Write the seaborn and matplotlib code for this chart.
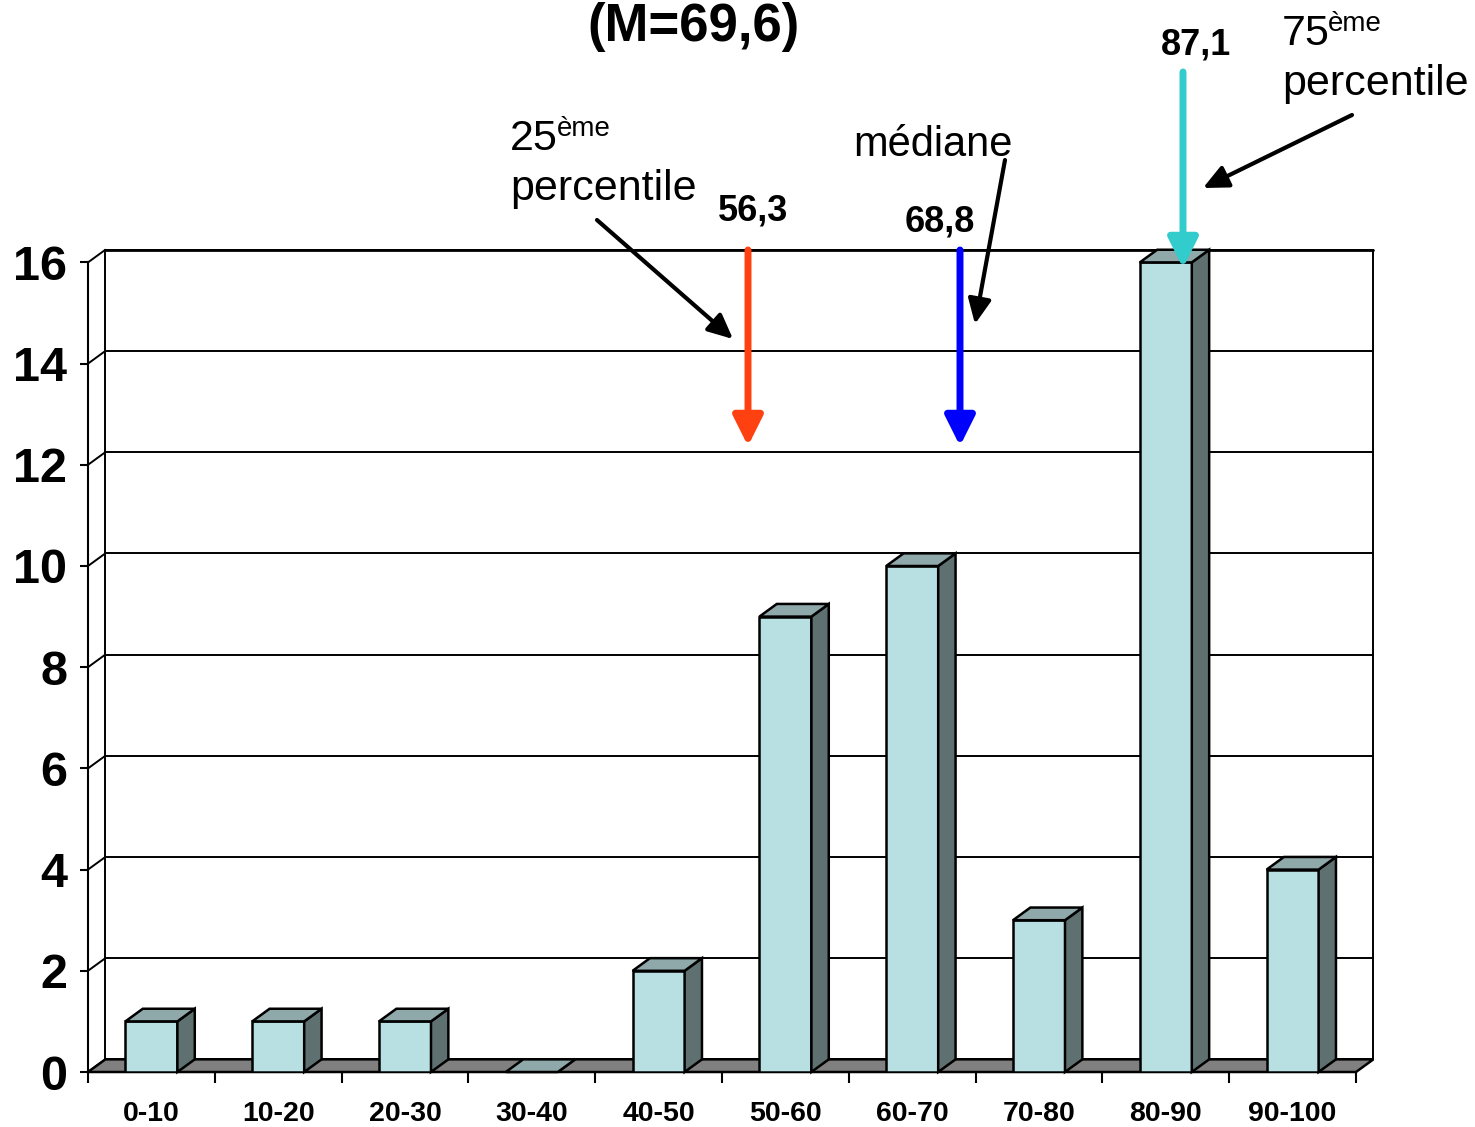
import matplotlib
matplotlib.use("Agg")
import matplotlib.pyplot as plt
from matplotlib.patches import Polygon, FancyArrowPatch
import seaborn as sns
import pandas as pd

# ---- data ----
categories = ["0-10", "10-20", "20-30", "30-40", "40-50", "50-60", "60-70", "70-80", "80-90", "90-100"]
counts = [1, 1, 1, 0, 2, 9, 10, 3, 16, 4]
y_ticks = [0, 2, 4, 6, 8, 10, 12, 14, 16]
title_text = "(M=69,6)"
p25_value = "56,3"
median_value = "68,8"
p75_value = "87,1"

sns.set_theme(style="white")
plt.rcParams["font.family"] = ["Liberation Sans", "DejaVu Sans"]
plt.rcParams["text.color"] = "black"
plt.rcParams["xtick.color"] = "black"
plt.rcParams["ytick.color"] = "black"
plt.rcParams["axes.labelcolor"] = "black"

W, H = 1475, 1127
fig = plt.figure(figsize=(W / 100, H / 100), dpi=100)

# axes geometry (pixels)
x_px_left, unit_x = 88, 126.8
y_px_bottom, unit_y = 1072, 50.6
xmin, xmax = -0.5, 9.75
ymin, ymax = 0, 16.5
ax = fig.add_axes([x_px_left / W, (H - y_px_bottom) / H,
                   (xmax - xmin) * unit_x / W, (ymax - ymin) * unit_y / H])

df = pd.DataFrame({"cat": categories, "n": counts})
sns.barplot(data=df, x="cat", y="n", width=0.41, color="#B8DFE2",
            edgecolor="black", linewidth=1.8, saturation=1, ax=ax, zorder=5)
ax.set_xlim(xmin, xmax)
ax.set_ylim(ymin, ymax)

dx, dy = 0.137, 0.25
n = len(categories)
L, R = -0.5, n - 0.5

# back wall gridlines and walls
for v in y_ticks:
    ax.plot([L + dx, R + dx], [v + dy, v + dy], color="black", lw=1.4, zorder=1, clip_on=False)
    ax.plot([L, L + dx], [v, v + dy], color="black", lw=1.4, zorder=1, clip_on=False)
ax.plot([L + dx, L + dx], [dy, y_ticks[-1] + dy], color="black", lw=1.4, zorder=1, clip_on=False)
ax.plot([R + dx, R + dx], [dy, y_ticks[-1] + dy], color="black", lw=1.4, zorder=1, clip_on=False)
ax.plot([L + dx, R + dx], [y_ticks[-1] + dy] * 2, color="black", lw=2, zorder=1, clip_on=False)

# floor
ax.add_patch(Polygon([(L, 0), (R, 0), (R + dx, dy), (L + dx, dy)], closed=True,
                     facecolor="#808080", edgecolor="black", lw=1.8, zorder=2, clip_on=False))

# 3D faces for bars
bar_patches = [p for p in ax.patches if hasattr(p, "get_width") and p.get_width() < 1]
for p in bar_patches:
    x0 = p.get_x(); w = p.get_width(); h = p.get_height()
    side = Polygon([(x0 + w, 0), (x0 + w + dx, dy), (x0 + w + dx, h + dy), (x0 + w, h)],
                   closed=True, facecolor="#5F7071", edgecolor="black", lw=1.8, zorder=6, clip_on=False)
    top = Polygon([(x0, h), (x0 + dx, h + dy), (x0 + w + dx, h + dy), (x0 + w, h)],
                  closed=True, facecolor="#8FA8AA", edgecolor="black", lw=1.8, zorder=6, clip_on=False)
    ax.add_patch(side)
    ax.add_patch(top)

# axes styling
for s in ["top", "right", "bottom"]:
    ax.spines[s].set_visible(False)
ax.spines["left"].set_bounds(0, y_ticks[-1])
ax.spines["left"].set_color("black")
ax.spines["left"].set_linewidth(1.5)
ax.set_yticks(y_ticks)
ax.set_yticklabels([str(v) for v in y_ticks], fontsize=35, fontweight="bold")
ax.tick_params(axis="y", left=True, length=6, width=1.5, color="black", pad=9)
ax.set_xticks(range(n))
ax.set_xticklabels(categories, fontsize=20.5, fontweight="bold")
ax.tick_params(axis="x", which="major", bottom=False, length=0, pad=21)
ax.set_xticks([i - 0.5 for i in range(n + 1)], minor=True)
ax.tick_params(axis="x", which="minor", bottom=True, length=8, width=1.5, color="black")
ax.set_xlabel("")
ax.set_ylabel("")
ax.grid(False)
ax.patch.set_alpha(0)


def fx(px):
    return px / W


def fy(py):
    return 1 - py / H


# title
fig.text(fx(694), fy(41), title_text, ha="center", va="baseline", fontsize=38, fontweight="bold")

# value labels
fig.text(fx(753), fy(221), p25_value, ha="center", va="baseline", fontsize=26, fontweight="bold")
fig.text(fx(940), fy(231), median_value, ha="center", va="baseline", fontsize=26, fontweight="bold")
fig.text(fx(1196), fy(54), p75_value, ha="center", va="baseline", fontsize=26, fontweight="bold")

# annotation texts
fig.text(fx(510), fy(150), "25", ha="left", va="baseline", fontsize=31)
fig.text(fx(557), fy(136), "ème", ha="left", va="baseline", fontsize=20)
fig.text(fx(510), fy(200), "percentile", ha="left", va="baseline", fontsize=31)
fig.text(fx(853), fy(156), "médiane", ha="left", va="baseline", fontsize=30)
fig.text(fx(1282), fy(45), "75", ha="left", va="baseline", fontsize=31)
fig.text(fx(1328), fy(31), "ème", ha="left", va="baseline", fontsize=20)
fig.text(fx(1282), fy(95), "percentile", ha="left", va="baseline", fontsize=31)


def arrow(x1, y1, x2, y2, color, lw, hl, hw):
    a = FancyArrowPatch((fx(x1), fy(y1)), (fx(x2), fy(y2)), transform=fig.transFigure,
                        arrowstyle=f"-|>,head_length={hl},head_width={hw}",
                        mutation_scale=20, color=color, lw=lw, shrinkA=0, shrinkB=0, zorder=10)
    fig.add_artist(a)


# percentile arrows
arrow(748, 250, 748, 446, "#FF4010", 5, 0.9, 0.45)
arrow(960, 250, 960, 446, "#0000FF", 5, 0.9, 0.45)
arrow(1183, 72, 1183, 268, "#33CCCC", 5, 0.9, 0.45)

# pointer arrows
arrow(597, 220, 733, 339, "black", 3, 0.75, 0.35)
arrow(1005, 160, 975, 324, "black", 3, 0.75, 0.35)
arrow(1352, 115, 1203, 188, "black", 3, 0.75, 0.35)

fig.savefig("out.png", dpi=100)
